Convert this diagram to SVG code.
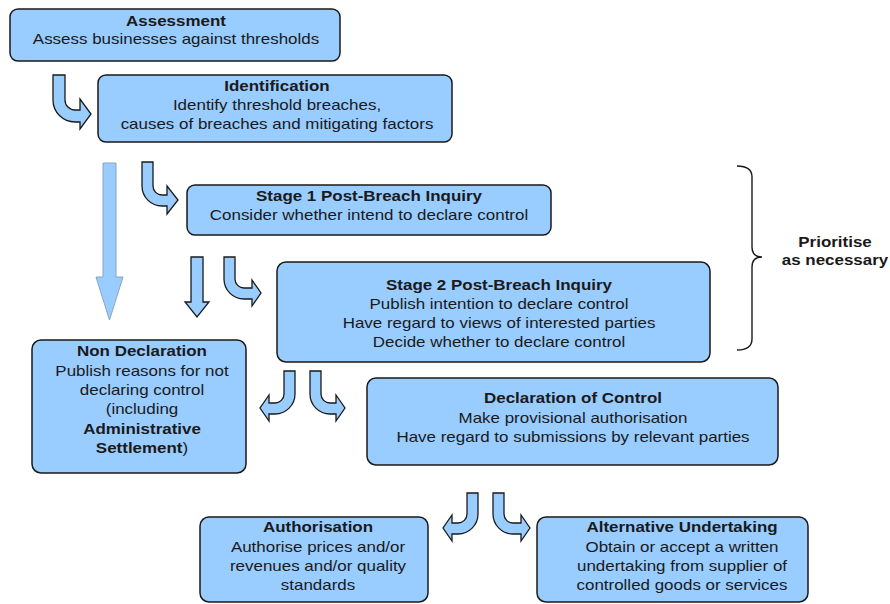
<svg xmlns="http://www.w3.org/2000/svg" width="890" height="604" viewBox="0 0 890 604">
<style>
.box{fill:#99ccff;stroke:#1a1a1a;stroke-width:1.5}
.t{font-family:"Liberation Sans",Arial,sans-serif;font-size:15px;fill:#1a1a1a;text-anchor:middle}
.b{font-weight:bold}
.arr{fill:#99ccff;stroke:#1a1a1a;stroke-width:1.3;stroke-linejoin:miter}
.big{fill:#99ccff;stroke:#8aa4c0;stroke-width:1}
.brace{fill:none;stroke:#1a1a1a;stroke-width:1.4}
</style>
<rect width="890" height="604" fill="#ffffff"/>
<g id="connectors">
<path class="arr" d="M53,75 V100 A22,22 0 0 0 75,122 H80 V129 L91,114 L80,99 V110 H75 A10,10 0 0 1 65,100 V75 Z"/>
<path class="arr" d="M142,162 V186 A20,20 0 0 0 162,206 H167 V214 L178,200 L167,186 V195 H162 A9,9 0 0 1 153,186 V162 Z"/>
<path class="big" d="M103,163 H116 V277 H123 L109.5,320 L96,277 H103 Z"/>
<path class="arr" d="M191,257 H203 V302 H209 L197,317 L185,302 H191 Z"/>
<path class="arr" d="M224,257 V279 A20,20 0 0 0 244,299 H252 V306 L261,293 L252,280 V288 H244 A9,9 0 0 1 235,279 V257 Z"/>
<path class="arr" d="M295,371 V394 A20,20 0 0 1 275,414 H269 V421 L260,408 L269,395 V403 H275 A9,9 0 0 0 284,394 V371 Z"/>
<path class="arr" d="M310,371 V394 A20,20 0 0 0 330,414 H336 V421 L345,408 L336,395 V403 H330 A9,9 0 0 1 321,394 V371 Z"/>
<path class="arr" d="M478,493 V514 A20,20 0 0 1 458,534 H452 V541 L443,528 L452,515 V523 H458 A9,9 0 0 0 467,514 V493 Z"/>
<path class="arr" d="M493,493 V514 A20,20 0 0 0 513,534 H521 V541 L530,528 L521,515 V523 H513 A9,9 0 0 1 504,514 V493 Z"/>
<path class="brace" d="M737,166 Q752,166 752,177 V247 Q752,257 762,257 Q752,257 752,267 V339 Q752,350 737,350"/>
</g>
<g id="assessment">
<rect class="box" x="10" y="9" width="330" height="52" rx="8"/>
<g transform="translate(176,0) scale(1.13,1)">
<text class="t b" x="0" y="26">Assessment</text>
<text class="t" x="0" y="44">Assess businesses against thresholds</text>
</g>
</g>
<g id="identification">
<rect class="box" x="98" y="75" width="354" height="67" rx="8"/>
<g transform="translate(277,0) scale(1.13,1)">
<text class="t b" x="0" y="91">Identification</text>
<text class="t" x="0" y="110">Identify threshold breaches,</text>
<text class="t" x="0" y="129">causes of breaches and mitigating factors</text>
</g>
</g>
<g id="stage1">
<rect class="box" x="187" y="185" width="364" height="50" rx="8"/>
<g transform="translate(369,0) scale(1.13,1)">
<text class="t b" x="0" y="201">Stage 1 Post-Breach Inquiry</text>
<text class="t" x="0" y="220">Consider whether intend to declare control</text>
</g>
</g>
<g id="stage2">
<rect class="box" x="277" y="262" width="433" height="100" rx="9"/>
<g transform="translate(499,0) scale(1.13,1)">
<text class="t b" x="0" y="290">Stage 2 Post-Breach Inquiry</text>
<text class="t" x="0" y="309">Publish intention to declare control</text>
<text class="t" x="0" y="328">Have regard to views of interested parties</text>
<text class="t" x="0" y="347">Decide whether to declare control</text>
</g>
</g>
<g id="prioritise">
<g transform="translate(835,0) scale(1.13,1)">
<text class="t b" x="0" y="247">Prioritise</text>
<text class="t b" x="0" y="265">as necessary</text>
</g>
</g>
<g id="non-declaration">
<rect class="box" x="32" y="340" width="214" height="133" rx="9"/>
<g transform="translate(142,0) scale(1.13,1)">
<text class="t b" x="0" y="356">Non Declaration</text>
<text class="t" x="0" y="376">Publish reasons for not</text>
<text class="t" x="0" y="395">declaring control</text>
<text class="t" x="0" y="414">(including</text>
<text class="t b" x="0" y="434">Administrative</text>
<text class="t" x="0" y="453"><tspan class="b">Settlement</tspan>)</text>
</g>
</g>
<g id="declaration-of-control">
<rect class="box" x="367" y="378" width="411" height="87" rx="9"/>
<g transform="translate(573,0) scale(1.13,1)">
<text class="t b" x="0" y="403">Declaration of Control</text>
<text class="t" x="0" y="423">Make provisional authorisation</text>
<text class="t" x="0" y="442">Have regard to submissions by relevant parties</text>
</g>
</g>
<g id="authorisation">
<rect class="box" x="200" y="517" width="228" height="85" rx="9"/>
<g transform="translate(318,0) scale(1.13,1)">
<text class="t b" x="0" y="532">Authorisation</text>
<text class="t" x="0" y="552">Authorise prices and/or</text>
<text class="t" x="0" y="571">revenues and/or quality</text>
<text class="t" x="0" y="590">standards</text>
</g>
</g>
<g id="alternative-undertaking">
<rect class="box" x="537" y="517" width="271" height="85" rx="9"/>
<g transform="translate(682,0) scale(1.13,1)">
<text class="t b" x="0" y="532">Alternative Undertaking</text>
<text class="t" x="0" y="552">Obtain or accept a written</text>
<text class="t" x="0" y="571">undertaking from supplier of</text>
<text class="t" x="0" y="590">controlled goods or services</text>
</g>
</g>
</svg>
